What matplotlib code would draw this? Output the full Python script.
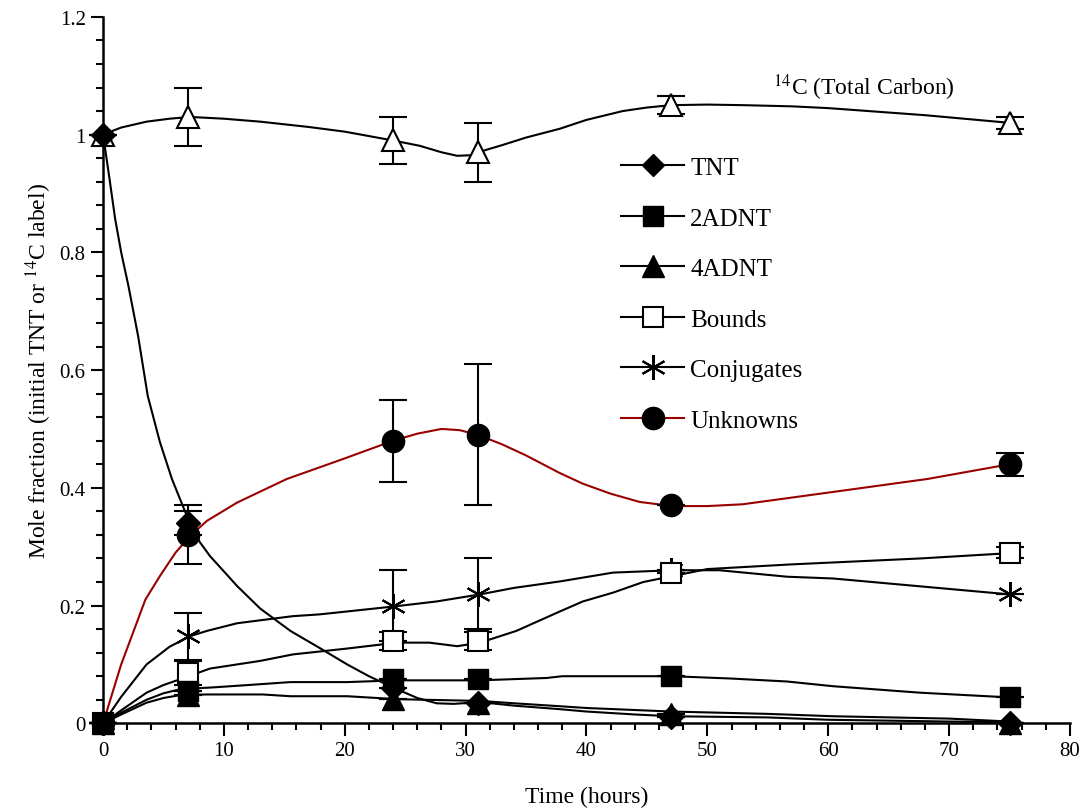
import matplotlib
matplotlib.use('Agg')
import matplotlib.pyplot as plt
from matplotlib.lines import Line2D
from matplotlib.ticker import MultipleLocator

plt.rcParams['font.family'] = ['Liberation Serif', 'DejaVu Serif']
plt.rcParams['mathtext.fontset'] = 'stix'

RED = '#990000'

# measured points (markers with error bars)
t_obs = [0, 7, 24, 31, 47, 75]
carbon_obs = [1.0, 1.03, 0.99, 0.97, 1.05, 1.02]
carbon_err = [0.0, 0.05, 0.04, 0.05, 0.015, 0.01]
tnt_obs = [1.0, 0.34, 0.06, 0.035, 0.01, 0.0]
tnt_err = [0.0, 0.02, 0.0, 0.0, 0.0, 0.0]
adnt2_obs = [0.0, 0.055, 0.075, 0.075, 0.08, 0.044]
adnt4_obs = [0.0, 0.048, 0.042, 0.035, 0.015, 0.0]
bounds_obs = [0.0, 0.085, 0.14, 0.14, 0.255, 0.29]
bounds_err = [0.0, 0.02, 0.015, 0.015, 0.0, 0.01]
conj_obs = [0.0, 0.148, 0.20, 0.22, 0.26, 0.22]
conj_err = [0.0, 0.04, 0.06, 0.06, 0.0, 0.0]
unk_obs = [0.0, 0.32, 0.48, 0.49, 0.37, 0.44]
unk_err = [0.0, 0.05, 0.07, 0.12, 0.0, 0.02]

# model curves
carbon_t = [0, 1.5, 3.6, 5.5, 7.2, 10, 13, 17, 20, 24, 26.2, 28, 29.3, 30.5, 31.2, 33, 35, 37.8, 40, 43, 45, 47, 50, 53, 57, 60, 68, 75]
carbon_m = [1.0, 1.012, 1.022, 1.027, 1.03, 1.027, 1.022, 1.013, 1.005, 0.99, 0.981, 0.97, 0.964, 0.965, 0.971, 0.982, 0.995, 1.01, 1.025, 1.04, 1.046, 1.05, 1.051, 1.05, 1.048, 1.045, 1.033, 1.02]
tnt_t = [0, 0.5, 1.0, 1.5, 2.1, 2.9, 3.7, 4.7, 5.7, 6.8, 8.0, 8.85, 10, 11.1, 13, 15.5, 18, 20.2, 22, 24.3, 26, 27.6, 29, 31.2, 34, 37.8, 40, 44, 47, 55, 60, 70, 75]
tnt_m = [1.0, 0.93, 0.857, 0.8, 0.743, 0.658, 0.556, 0.478, 0.415, 0.359, 0.308, 0.284, 0.258, 0.233, 0.195, 0.157, 0.127, 0.10, 0.08, 0.058, 0.043, 0.034, 0.033, 0.036, 0.03, 0.024, 0.02, 0.015, 0.012, 0.01, 0.006, 0.003, 0.002]
adnt2_t = [0, 1.5, 3.6, 5, 6.4, 9.1, 12, 15.5, 20.2, 24.3, 31.2, 36.7, 38, 47.1, 52, 56.6, 60.4, 67.6, 75]
adnt2_m = [0.0, 0.018, 0.04, 0.051, 0.058, 0.061, 0.065, 0.07, 0.07, 0.073, 0.073, 0.077, 0.08, 0.08, 0.076, 0.071, 0.063, 0.052, 0.044]
adnt4_t = [0, 1.5, 3.6, 5, 6.4, 8.6, 13.2, 15.5, 20.2, 24.3, 31.2, 34, 37.8, 40, 47, 55, 60.4, 70, 75]
adnt4_m = [0.0, 0.015, 0.035, 0.043, 0.048, 0.049, 0.049, 0.046, 0.046, 0.041, 0.038, 0.034, 0.029, 0.026, 0.02, 0.016, 0.012, 0.008, 0.003]
bounds_t = [0, 1.5, 3.6, 5, 6.4, 8.85, 13, 15.7, 20.2, 24.3, 27, 29.3, 31.2, 34.2, 37.8, 39.7, 42.2, 44.7, 47.1, 50, 57, 67.6, 75]
bounds_m = [0.0, 0.022, 0.052, 0.065, 0.075, 0.093, 0.106, 0.117, 0.127, 0.137, 0.137, 0.131, 0.137, 0.157, 0.19, 0.207, 0.222, 0.24, 0.25, 0.262, 0.27, 0.28, 0.289]
conj_t = [0, 1.5, 3.6, 5.5, 7.2, 8.6, 11.1, 15.7, 17.9, 20.2, 24.3, 27.6, 31.2, 34, 37.8, 42.2, 47.1, 51, 56.6, 60.4, 75]
conj_m = [0.0, 0.045, 0.10, 0.13, 0.148, 0.157, 0.17, 0.182, 0.185, 0.19, 0.199, 0.207, 0.219, 0.23, 0.241, 0.256, 0.26, 0.26, 0.249, 0.246, 0.219]
unk_t = [0, 1.5, 3.5, 4.7, 6, 7.2, 8.6, 11.1, 15.2, 20, 24, 26, 28, 29.5, 31, 33, 35, 37.8, 39.7, 42, 44.4, 47.1, 50, 52.9, 60.4, 68.2, 75]
unk_m = [0.0, 0.1, 0.21, 0.25, 0.29, 0.318, 0.344, 0.375, 0.415, 0.45, 0.48, 0.492, 0.50, 0.498, 0.49, 0.474, 0.455, 0.425, 0.407, 0.39, 0.376, 0.369, 0.369, 0.372, 0.393, 0.415, 0.44]

fig = plt.figure(figsize=(10.87, 8.12), dpi=100)
ax = fig.add_axes([0.0948, 0.108, 0.8895, 0.87])

lw = 1.5
ax.plot(carbon_t, carbon_m, color='black', lw=lw)
ax.plot(tnt_t, tnt_m, color='black', lw=lw)
ax.plot(adnt2_t, adnt2_m, color='black', lw=lw)
ax.plot(adnt4_t, adnt4_m, color='black', lw=lw)
ax.plot(bounds_t, bounds_m, color='black', lw=lw)
ax.plot(conj_t, conj_m, color='black', lw=lw)
ax.plot(unk_t, unk_m, color=RED, lw=lw)

eb = dict(ls='none', ecolor='black', elinewidth=1.5, capsize=10, capthick=1.5, zorder=3, clip_on=False)
ax.errorbar(t_obs, carbon_obs, yerr=carbon_err, marker='^', ms=16, mfc='white', mec='black', mew=1.5, **eb)
ax.errorbar(t_obs, unk_obs, yerr=unk_err, marker='o', ms=16, mfc='black', mec='black', **eb)
ax.errorbar(t_obs, conj_obs, yerr=conj_err, marker=(6, 2, 0), ms=18, mec='black', mew=1.5, **eb)
ax.errorbar(t_obs, bounds_obs, yerr=bounds_err, marker='s', ms=15, mfc='white', mec='black', mew=1.5, **eb)
ax.errorbar(t_obs, adnt4_obs, yerr=[0] * 6, marker='^', ms=16, mfc='black', mec='black', **eb)
ax.errorbar(t_obs, adnt2_obs, yerr=[0] * 6, marker='s', ms=15, mfc='black', mec='black', **eb)
ax.errorbar(t_obs, tnt_obs, yerr=tnt_err, marker='D', ms=12, mfc='black', mec='black', **eb)

ax.set_xlim(0, 80)
ax.set_ylim(0, 1.2)
ax.xaxis.set_major_locator(MultipleLocator(10))
ax.xaxis.set_minor_locator(MultipleLocator(2))
ax.yaxis.set_minor_locator(MultipleLocator(0.04))
ax.set_yticks([0, 0.2, 0.4, 0.6, 0.8, 1.0, 1.2])
ax.set_yticklabels(['0', '0.2', '0.4', '0.6', '0.8', '1', '1.2'])
ax.tick_params(which='major', direction='out', length=9, width=1.5, labelsize=15)
ax.tick_params(which='minor', direction='out', length=5, width=1.5)
ax.spines['top'].set_visible(False)
ax.spines['right'].set_visible(False)
for s in ['left', 'bottom']:
    ax.spines[s].set_linewidth(1.8)

ax.set_xlabel('Time (hours)', fontsize=17, labelpad=19)
ax.set_ylabel(r'Mole fraction (initial TNT or $^{14}$C label)', fontsize=17, labelpad=4)

ax.text(55.4, 1.082, r'$^{14}$C (Total Carbon)', fontsize=17, va='center')

handles = [
    Line2D([], [], color='black', lw=lw, marker='D', ms=11, mfc='black', mec='black'),
    Line2D([], [], color='black', lw=lw, marker='s', ms=15, mfc='black', mec='black'),
    Line2D([], [], color='black', lw=lw, marker='^', ms=16, mfc='black', mec='black'),
    Line2D([], [], color='black', lw=lw, marker='s', ms=15, mfc='white', mec='black', mew=1.5),
    Line2D([], [], color='black', lw=lw, marker=(6, 2, 0), ms=18, mec='black', mew=1.5),
    Line2D([], [], color=RED, lw=lw, marker='o', ms=16, mfc='black', mec='black'),
]
labels = ['TNT', '2ADNT', '4ADNT', 'Bounds', 'Conjugates', 'Unknowns']
ax.legend(handles, labels, loc='upper left', bbox_to_anchor=(0.536, 0.802), frameon=False,
          fontsize=18, handlelength=2.5, handletextpad=0.25, labelspacing=1.12, borderpad=0,
          borderaxespad=0)

fig.savefig('out.png', dpi=100)
